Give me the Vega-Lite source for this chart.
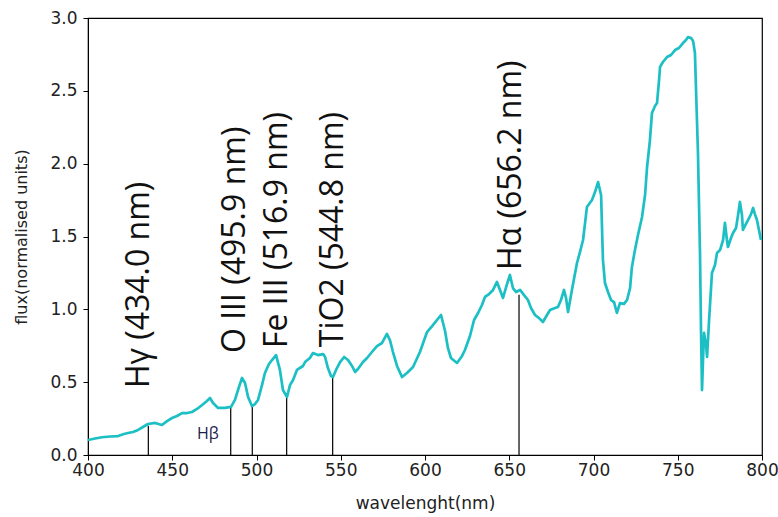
{
  "$schema": "https://vega.github.io/schema/vega-lite/v6.json",
  "width": 674,
  "height": 437,
  "autosize": "none",
  "padding": {"left": 88, "top": 18, "right": 16, "bottom": 62},
  "background": "white",
  "config": {"view": {"stroke": "#000", "strokeWidth": 1.2}, "font": "DejaVu Sans"},
  "datasets": {
    "spectrum": [
      {"wl":400.0,"flux":0.103},{"wl":404.2,"flux":0.113},{"wl":408.3,"flux":0.122},{"wl":413.1,"flux":0.127},{"wl":417.8,"flux":0.130},
      {"wl":421.4,"flux":0.144},{"wl":423.7,"flux":0.151},{"wl":426.7,"flux":0.158},{"wl":429.7,"flux":0.172},{"wl":432.6,"flux":0.192},
      {"wl":435.6,"flux":0.213},{"wl":439.8,"flux":0.220},{"wl":443.9,"flux":0.206},{"wl":446.9,"flux":0.233},{"wl":449.9,"flux":0.254},
      {"wl":452.8,"flux":0.268},{"wl":455.8,"flux":0.288},{"wl":458.8,"flux":0.288},{"wl":461.7,"flux":0.295},{"wl":464.7,"flux":0.316},
      {"wl":467.7,"flux":0.343},{"wl":470.6,"flux":0.371},{"wl":472.4,"flux":0.391},{"wl":474.2,"flux":0.357},{"wl":477.2,"flux":0.323},
      {"wl":481.3,"flux":0.323},{"wl":484.9,"flux":0.330},{"wl":487.2,"flux":0.378},{"wl":489.6,"flux":0.467},{"wl":491.4,"flux":0.529},
      {"wl":493.2,"flux":0.494},{"wl":495.0,"flux":0.398},{"wl":497.3,"flux":0.336},{"wl":499.1,"flux":0.350},{"wl":500.9,"flux":0.378},
      {"wl":503.3,"flux":0.481},{"wl":505.0,"flux":0.563},{"wl":507.4,"flux":0.625},{"wl":509.2,"flux":0.652},{"wl":511.6,"flux":0.686},
      {"wl":513.9,"flux":0.584},{"wl":515.7,"flux":0.446},{"wl":518.1,"flux":0.398},{"wl":519.9,"flux":0.481},{"wl":521.7,"flux":0.515},
      {"wl":524.0,"flux":0.584},{"wl":527.6,"flux":0.611},{"wl":528.8,"flux":0.638},{"wl":531.7,"flux":0.666},{"wl":533.5,"flux":0.700},
      {"wl":536.5,"flux":0.686},{"wl":539.5,"flux":0.693},{"wl":540.7,"flux":0.673},{"wl":542.4,"flux":0.597},{"wl":544.2,"flux":0.542},
      {"wl":545.4,"flux":0.535},{"wl":547.2,"flux":0.584},{"wl":549.6,"flux":0.638},{"wl":552.0,"flux":0.673},{"wl":554.3,"flux":0.652},
      {"wl":556.7,"flux":0.611},{"wl":558.5,"flux":0.570},{"wl":560.2,"flux":0.590},{"wl":563.2,"flux":0.638},{"wl":565.6,"flux":0.666},
      {"wl":568.5,"flux":0.707},{"wl":571.5,"flux":0.748},{"wl":574.5,"flux":0.769},{"wl":577.4,"flux":0.831},{"wl":579.2,"flux":0.789},
      {"wl":581.0,"flux":0.707},{"wl":583.4,"flux":0.611},{"wl":586.4,"flux":0.535},{"wl":589.3,"flux":0.563},{"wl":592.9,"flux":0.604},
      {"wl":597.0,"flux":0.707},{"wl":601.2,"flux":0.844},{"wl":604.7,"flux":0.892},{"wl":607.1,"flux":0.927},{"wl":609.5,"flux":0.961},
      {"wl":611.9,"flux":0.851},{"wl":613.6,"flux":0.735},{"wl":615.4,"flux":0.666},{"wl":619.0,"flux":0.632},{"wl":622.0,"flux":0.680},
      {"wl":623.7,"flux":0.721},{"wl":626.7,"flux":0.817},{"wl":629.1,"flux":0.927},{"wl":631.5,"flux":0.975},{"wl":633.8,"flux":1.030},
      {"wl":635.6,"flux":1.085},{"wl":638.0,"flux":1.105},{"wl":640.4,"flux":1.133},{"wl":642.7,"flux":1.188},{"wl":644.5,"flux":1.133},
      {"wl":646.3,"flux":1.078},{"wl":648.7,"flux":1.174},{"wl":650.4,"flux":1.236},{"wl":652.2,"flux":1.146},{"wl":654.0,"flux":1.119},
      {"wl":656.4,"flux":1.133},{"wl":658.8,"flux":1.098},{"wl":661.1,"flux":1.064},{"wl":662.9,"flux":1.009},{"wl":665.3,"flux":0.961},
      {"wl":667.7,"flux":0.940},{"wl":670.0,"flux":0.913},{"wl":672.4,"flux":0.961},{"wl":674.2,"flux":0.995},{"wl":677.2,"flux":1.009},
      {"wl":678.9,"flux":1.016},{"wl":680.7,"flux":1.064},{"wl":682.5,"flux":1.133},{"wl":683.7,"flux":1.078},{"wl":684.9,"flux":0.982},
      {"wl":687.2,"flux":1.133},{"wl":690.2,"flux":1.318},{"wl":692.0,"flux":1.394},{"wl":693.8,"flux":1.476},{"wl":696.1,"flux":1.702},
      {"wl":699.1,"flux":1.751},{"wl":700.9,"flux":1.805},{"wl":702.7,"flux":1.874},{"wl":704.5,"flux":1.785},{"wl":705.6,"flux":1.339},
      {"wl":706.8,"flux":1.181},{"wl":708.6,"flux":1.119},{"wl":710.4,"flux":1.064},{"wl":712.2,"flux":1.050},{"wl":713.9,"flux":0.975},
      {"wl":715.7,"flux":1.043},{"wl":718.1,"flux":1.037},{"wl":719.9,"flux":1.064},{"wl":721.7,"flux":1.146},{"wl":722.8,"flux":1.291},
      {"wl":724.6,"flux":1.407},{"wl":726.4,"flux":1.510},{"wl":728.8,"flux":1.634},{"wl":730.6,"flux":1.785},{"wl":731.8,"flux":1.977},
      {"wl":733.5,"flux":2.162},{"wl":734.7,"flux":2.348},{"wl":736.5,"flux":2.396},{"wl":737.7,"flux":2.416},{"wl":738.9,"flux":2.574},
      {"wl":739.5,"flux":2.664},{"wl":741.2,"flux":2.698},{"wl":743.6,"flux":2.732},{"wl":746.0,"flux":2.746},{"wl":748.4,"flux":2.780},
      {"wl":750.7,"flux":2.794},{"wl":753.1,"flux":2.828},{"wl":754.9,"flux":2.849},{"wl":756.1,"flux":2.869},{"wl":757.9,"flux":2.862},
      {"wl":759.1,"flux":2.842},{"wl":760.2,"flux":2.760},{"wl":761.4,"flux":2.300},{"wl":762.0,"flux":2.073},{"wl":763.2,"flux":1.387},
      {"wl":763.8,"flux":0.858},{"wl":764.4,"flux":0.446},{"wl":765.0,"flux":0.652},{"wl":765.6,"flux":0.838},{"wl":766.8,"flux":0.755},
      {"wl":767.4,"flux":0.673},{"wl":768.6,"flux":0.927},{"wl":770.3,"flux":1.249},{"wl":772.1,"flux":1.304},{"wl":773.3,"flux":1.387},
      {"wl":775.1,"flux":1.407},{"wl":776.9,"flux":1.476},{"wl":778.0,"flux":1.593},{"wl":779.2,"flux":1.476},{"wl":779.8,"flux":1.428},
      {"wl":781.6,"flux":1.490},{"wl":782.8,"flux":1.524},{"wl":784.6,"flux":1.558},{"wl":785.8,"flux":1.648},{"wl":786.9,"flux":1.737},
      {"wl":788.1,"flux":1.648},{"wl":788.7,"flux":1.545},{"wl":790.5,"flux":1.586},{"wl":791.7,"flux":1.613},{"wl":793.5,"flux":1.654},
      {"wl":794.7,"flux":1.696},{"wl":795.8,"flux":1.654},{"wl":797.0,"flux":1.613},{"wl":798.2,"flux":1.545},{"wl":799.4,"flux":1.476}
    ],
    "lines": [
      {"wl":435.8,"flux":0.20},{"wl":484.7,"flux":0.33},{"wl":497.5,"flux":0.335},
      {"wl":517.9,"flux":0.40},{"wl":545.2,"flux":0.533},{"wl":655.8,"flux":1.10}
    ],
    "labels": [
      {"wl":436.2,"flux":0.46,"label":"Hγ (434.0 nm)"},
      {"wl":493.2,"flux":0.70,"label":"O III (495.9 nm)"},
      {"wl":518.1,"flux":0.735,"label":"Fe III (516.9 nm)"},
      {"wl":551.3,"flux":0.74,"label":"TiO2 (544.8 nm)"},
      {"wl":657.0,"flux":1.27,"label":"Hα (656.2 nm)"}
    ],
    "small": [
      {"wl":471.2,"flux":0.144,"label":"Hβ"}
    ]
  },
  "encoding": {
    "x": {
      "field": "wl", "type": "quantitative",
      "scale": {"domain": [400, 800], "nice": false, "zero": false},
      "axis": {
        "title": "wavelenght(nm)", "values": [400,450,500,550,600,650,700,750,800],
        "grid": false, "labelFont": "DejaVu Sans", "labelFontSize": 17, "labelColor": "#222",
        "tickColor": "#000", "domainColor": "#000", "tickSize": 5, "labelPadding": 2,
        "labelFlush": false, "labelOverlap": false,
        "titleFont": "DejaVu Sans", "titleFontSize": 17, "titleFontWeight": "normal", "titleColor": "#222", "titlePadding": 17
      }
    },
    "y": {
      "field": "flux", "type": "quantitative",
      "scale": {"domain": [0, 3], "nice": false, "zero": false},
      "axis": {
        "title": "flux(normalised units)", "values": [0,0.5,1,1.5,2,2.5,3], "format": ".1f",
        "grid": false, "labelFont": "DejaVu Sans", "labelFontSize": 17, "labelColor": "#222",
        "tickColor": "#000", "domainColor": "#000", "tickSize": 5, "labelPadding": 6,
        "labelFlush": false, "labelOverlap": false,
        "titleFont": "DejaVu Sans", "titleFontSize": 16, "titleFontWeight": "normal", "titleColor": "#222", "titlePadding": 20
      }
    }
  },
  "layer": [
    {"data": {"name": "lines"}, "mark": {"type": "rule", "color": "#000", "strokeWidth": 1.2},
     "encoding": {"y2": {"datum": 0}}},
    {"data": {"name": "spectrum"}, "mark": {"type": "line", "color": "#1cbfc4", "strokeWidth": 2.7, "strokeJoin": "round"}},
    {"data": {"name": "labels"}, "mark": {"type": "text", "angle": 270, "align": "left", "baseline": "alphabetic", "font": "Open Sans", "fontSize": 32, "color": "#111"},
     "encoding": {"text": {"field": "label"}}},
    {"data": {"name": "small"}, "mark": {"type": "text", "align": "center", "baseline": "middle", "font": "Open Sans", "fontSize": 16, "color": "#202050"},
     "encoding": {"text": {"field": "label"}}}
  ]
}
